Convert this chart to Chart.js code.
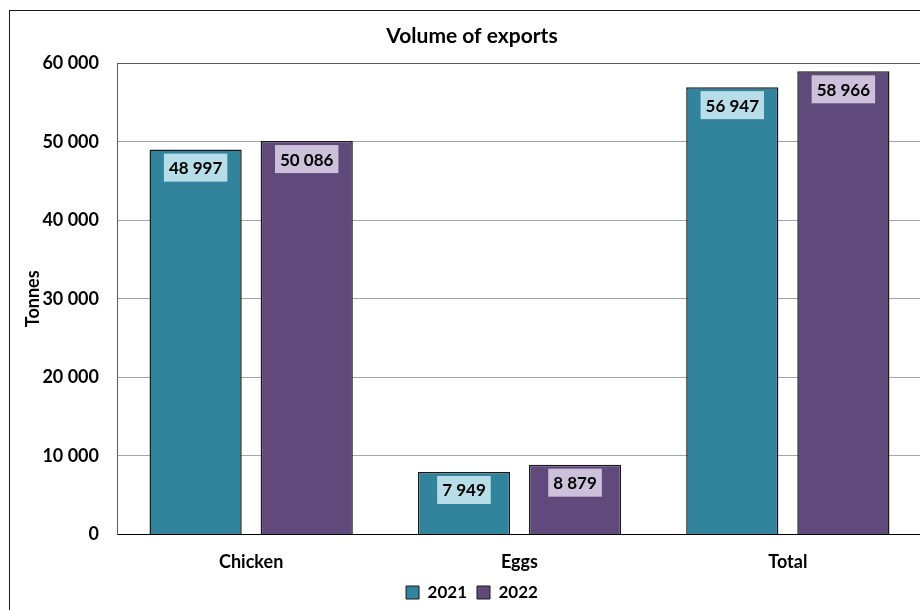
<!DOCTYPE html>
<html lang="en">

<head>
    <meta charset="UTF-8">
    <script src="https://cdn.jsdelivr.net/npm/chart.js"></script>
    <title>Volume of exports</title>
    <style>
        html, body { margin: 0; padding: 0; background: #fff; overflow: hidden; }
        #moldura {
            position: absolute;
            left: 9px;
            top: 10px;
            width: 930px;
            height: 620px;
            border: 1px solid #1a1a1a;
            background: #fff;
        }
    </style>
</head>

<body>
<div id="moldura">
    <canvas id="grafico"></canvas>
</div>

<script>
    var categorias = ["Chicken", "Eggs", "Total"];
    var anos = ["2021", "2022"];
    var valores2021 = [48997, 7949, 56947];
    var valores2022 = [50086, 8879, 58966];
    var ticksY = [0, 10000, 20000, 30000, 40000, 50000, 60000];

    var corBarra = ["#31849B", "#604A7B"];
    var corCaixa = ["#B7DEE8", "#CCC0DA"];
    var fonte = "Lato, 'Open Sans', sans-serif";

    function formatar(n) {
        return String(n).replace(/\B(?=(\d{3})+(?!\d))/g, " ");
    }

    // caixinhas com o valor logo abaixo do topo de cada barra
    var rotulos = {
        id: "rotulos",
        afterDatasetsDraw: function (chart) {
            var ctx = chart.ctx;
            ctx.save();
            ctx.font = "bold 17px " + fonte;
            ctx.textAlign = "center";
            ctx.textBaseline = "middle";
            chart.data.datasets.forEach(function (ds, i) {
                var meta = chart.getDatasetMeta(i);
                meta.data.forEach(function (barra, j) {
                    var texto = formatar(ds.data[j]);
                    var w = ctx.measureText(texto).width + 10;
                    var h = 28;
                    var topo = barra.y + 4;
                    ctx.fillStyle = corCaixa[i];
                    ctx.fillRect(barra.x - w / 2, topo, w, h);
                    ctx.fillStyle = "#000";
                    ctx.fillText(texto, barra.x, topo + h / 2 + 1);
                });
            });
            ctx.restore();
        }
    };

    var dados = {
        labels: categorias,
        datasets: [{
            label: anos[0],
            data: valores2021,
            backgroundColor: corBarra[0],
            borderColor: "#1a1a1a",
            borderWidth: 1.5,
            categoryPercentage: 0.828,
            barPercentage: 0.83
        }, {
            label: anos[1],
            data: valores2022,
            backgroundColor: corBarra[1],
            borderColor: "#1a1a1a",
            borderWidth: 1.5,
            categoryPercentage: 0.828,
            barPercentage: 0.83
        }]
    };

    var config = {
        type: "bar",
        data: dados,
        plugins: [rotulos],
        options: {
            responsive: true,
            maintainAspectRatio: false,
            animation: false,
            layout: {
                padding: { left: 12, right: 18, top: 0, bottom: 20 }
            },
            plugins: {
                title: {
                    display: true,
                    text: "Volume of exports",
                    color: "#000",
                    font: { family: fonte, size: 21, weight: "bold" },
                    padding: { top: 13, bottom: 14 }
                },
                legend: {
                    position: "bottom",
                    labels: {
                        color: "#000",
                        font: { family: fonte, size: 17, weight: "bold" },
                        boxWidth: 13,
                        boxHeight: 13,
                        padding: 10,
                        generateLabels: function (chart) {
                            return chart.data.datasets.map(function (ds, i) {
                                return {
                                    text: ds.label,
                                    fillStyle: corBarra[i],
                                    strokeStyle: "#1a1a1a",
                                    lineWidth: 1,
                                    datasetIndex: i,
                                    fontColor: "#000"
                                };
                            });
                        }
                    }
                },
                tooltip: { enabled: false }
            },
            scales: {
                x: {
                    afterFit: function (eixo) {
                        eixo.height -= 8;
                    },
                    grid: { display: false },
                    border: { color: "#000", width: 1 },
                    ticks: {
                        color: "#000",
                        font: { family: fonte, size: 18, weight: "bold" },
                        padding: 9
                    }
                },
                y: {
                    min: 0,
                    max: 60000,
                    afterBuildTicks: function (eixo) {
                        eixo.ticks = ticksY.map(function (v) { return { value: v }; });
                    },
                    afterFit: function (eixo) {
                        eixo.width = 95;
                    },
                    title: {
                        display: true,
                        text: "Tonnes",
                        color: "#000",
                        font: { family: fonte, size: 18, weight: "bold" },
                        padding: { top: 0, bottom: 0 }
                    },
                    grid: {
                        color: function (c) {
                            return c.tick && c.tick.value === 60000 ? "#595959" : "#a6a6a6";
                        },
                        lineWidth: 1,
                        drawTicks: false
                    },
                    border: { color: "#595959", width: 1 },
                    ticks: {
                        color: "#000",
                        font: { family: fonte, size: 18, weight: "bold" },
                        padding: 18,
                        callback: function (v) { return formatar(v); }
                    }
                }
            }
        }
    };

    new Chart(document.getElementById("grafico"), config);
</script>
</body>

</html>
